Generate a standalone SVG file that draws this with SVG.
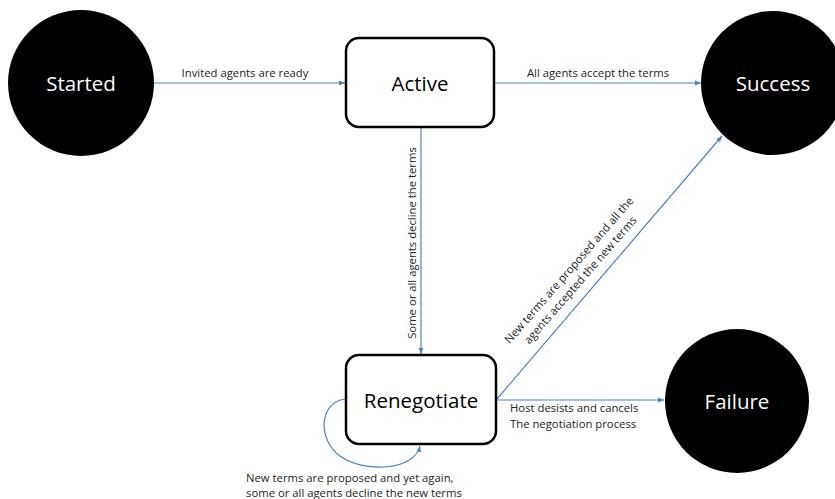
<svg xmlns="http://www.w3.org/2000/svg" width="835" height="499" viewBox="0 0 835 499">
<defs>
<marker id="arr" viewBox="0 0 10 10" refX="10" refY="5" markerWidth="6" markerHeight="6" orient="auto" markerUnits="userSpaceOnUse">
<path d="M0,1 L10,5 L0,9 z" fill="#4f81bd"/>
</marker>
<style>
.circ{fill:#000}
.box{fill:#fff;stroke:#000;stroke-width:2.5}
.nt{font-family:"Open Sans","Liberation Sans",sans-serif;font-size:20.5px;text-anchor:middle;dominant-baseline:central}
.wt{fill:#fff}
.bt{fill:#000}
.edge{fill:none;stroke:#4f81bd;stroke-width:1.2;marker-end:url(#arr)}
.lbl{font-family:"Open Sans","Liberation Sans",sans-serif;font-size:11.3px;fill:#222}
</style>
</defs>
<rect width="835" height="499" fill="#fff"/>
<g id="connectors">
<line class="edge" x1="154" y1="83" x2="345" y2="83"/>
<line class="edge" x1="495" y1="83" x2="701" y2="83"/>
<line class="edge" x1="421" y1="128" x2="421" y2="354"/>
<line class="edge" x1="497" y1="399" x2="722" y2="136"/>
<line class="edge" x1="497" y1="400" x2="664" y2="400"/>
<path class="edge" d="M345,399 C318,403 318,440 340,456 C365,474 415,470 420,446"/>
<text class="lbl" x="245" y="77" text-anchor="middle">Invited agents are ready</text>
<text class="lbl" x="598" y="77" text-anchor="middle">All agents accept the terms</text>
<text class="lbl" transform="translate(416,243) rotate(-90)" text-anchor="middle">Some or all agents decline the terms</text>
<g transform="translate(578,278) rotate(-49)">
<text class="lbl" x="0" y="-8" text-anchor="middle">New terms are proposed and all the</text>
<text class="lbl" x="0" y="7" text-anchor="middle">agents accepted the new terms</text>
</g>
<text class="lbl" x="510" y="412">Host desists and cancels</text>
<text class="lbl" x="510" y="428">The negotiation process</text>
<text class="lbl" x="246" y="482">New terms are proposed and yet again,</text>
<text class="lbl" x="246" y="497">some or all agents decline the new terms</text>
</g>
<g id="started"><circle class="circ" cx="81" cy="83" r="73"/><text class="nt wt" x="81" y="83">Started</text></g>
<g id="active"><rect class="box" x="346" y="38" width="148" height="89" rx="13"/><text class="nt bt" x="420" y="83">Active</text></g>
<g id="success"><circle class="circ" cx="773" cy="83" r="72"/><text class="nt wt" x="773" y="83">Success</text></g>
<g id="renegotiate"><rect class="box" x="346" y="355" width="150" height="89" rx="13"/><text class="nt bt" x="421" y="400">Renegotiate</text></g>
<g id="failure"><circle class="circ" cx="737" cy="401" r="72"/><text class="nt wt" x="737" y="401">Failure</text></g>
</svg>
